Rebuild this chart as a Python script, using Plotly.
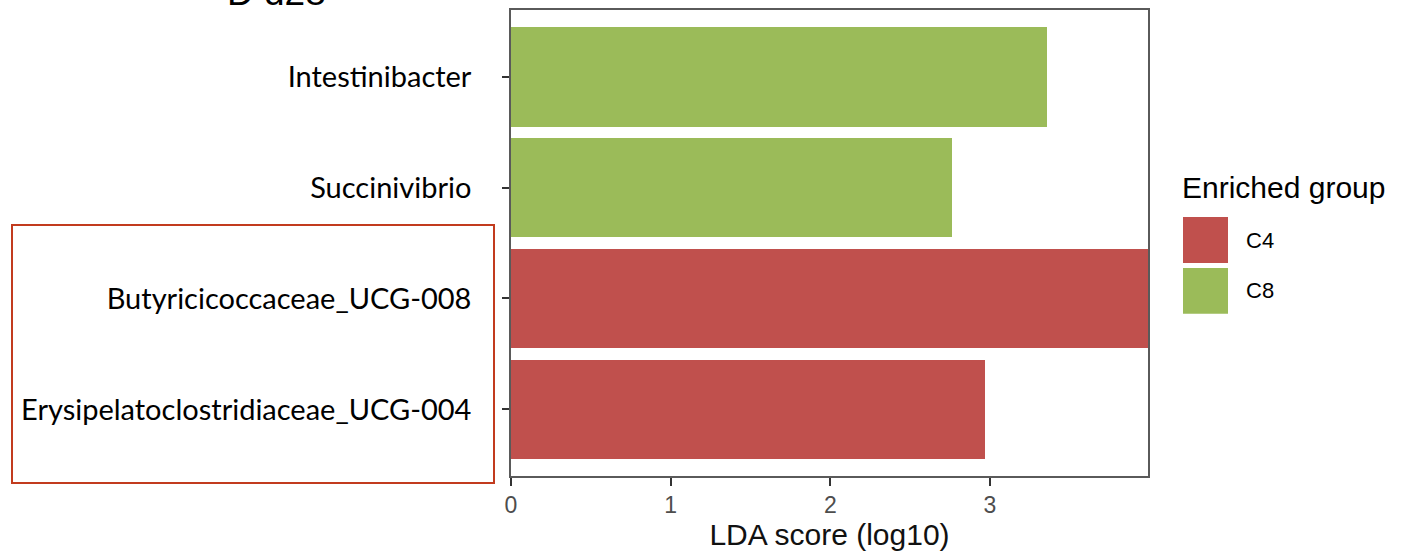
import plotly.graph_objects as go

# ---- data ----
taxa = ["Erysipelatoclostridiaceae_UCG-004", "Butyricicoccaceae_UCG-008",
        "Succinivibrio", "Intestinibacter"]
lda_scores = [2.97, 3.99, 2.76, 3.36]
groups = ["C4", "C4", "C8", "C8"]
group_names = ["C4", "C8"]
group_colors = {"C4": "#C0504D", "C8": "#9BBB59"}
x_ticks = [0, 1, 2, 3]

W, H = 1411, 551
L, R, T, B = 511, 1148, 8, 476  # plot area in pixels


def px(xp):
    return (xp - L) / (R - L)


def py(yp):
    return (B - yp) / (B - T)


fig = go.Figure()
for g in group_names:
    ys = [t for t, gg in zip(taxa, groups) if gg == g]
    xs = [v for v, gg in zip(lda_scores, groups) if gg == g]
    fig.add_trace(go.Bar(x=xs, y=ys, orientation="h", name=g,
                         marker=dict(color=group_colors[g], line=dict(width=0)),
                         width=0.9, showlegend=False))

fig.update_layout(
    width=W, height=H,
    margin=dict(l=L, r=W - R, t=T, b=H - B),
    plot_bgcolor="white", paper_bgcolor="white",
    bargap=0,
)
fig.update_xaxes(
    range=[0, 3.99], tickvals=x_ticks, ticktext=[str(v) for v in x_ticks],
    showgrid=False, zeroline=False,
    showline=True, mirror=True, linecolor="#5a5a5a", linewidth=1.5,
    ticks="outside", ticklen=8, tickwidth=2, tickcolor="#333333",
    ticklabelstandoff=0,
    tickfont=dict(family="Liberation Sans", size=23, color="#4d4d4d"),
    title=dict(text="LDA score (log10)", standoff=1,
               font=dict(family="Liberation Sans", size=30, color="#111111")),
)
fig.update_yaxes(
    type="category", categoryorder="array", categoryarray=taxa,
    range=[-0.6, 3.6],
    showgrid=False, zeroline=False,
    showline=True, mirror=True, linecolor="#5a5a5a", linewidth=1.5,
    ticks="outside", ticklen=7, tickwidth=2, tickcolor="#333333",
    ticklabelstandoff=25,
    tickfont=dict(family="Lato", size=29, color="#000000"),
)

# title (cut off at the top, as in the reference)
fig.add_annotation(text="D d28", xref="paper", yref="paper",
                   x=px(276), y=py(-10), xanchor="center", yanchor="middle",
                   showarrow=False,
                   font=dict(family="Liberation Sans", size=37, color="#000000"))

# highlight box
fig.add_shape(type="rect", xref="paper", yref="paper",
              x0=px(12), x1=px(494), y0=py(483), y1=py(224),
              line=dict(color="#C23B1E", width=2), fillcolor="rgba(0,0,0,0)")

# legend (drawn manually for large swatches)
fig.add_annotation(text="Enriched group", xref="paper", yref="paper",
                   x=px(1180), y=py(186), xanchor="left", yanchor="middle",
                   showarrow=False,
                   font=dict(family="Liberation Sans", size=30, color="#000000"))
sw_top = [216, 267]
for g, top in zip(group_names, sw_top):
    fig.add_shape(type="rect", xref="paper", yref="paper",
                  x0=px(1183), x1=px(1228), y0=py(top + 46), y1=py(top),
                  line=dict(width=0), fillcolor=group_colors[g])
    fig.add_annotation(text=g, xref="paper", yref="paper",
                       x=px(1244), y=py(top + 23), xanchor="left", yanchor="middle",
                       showarrow=False,
                       font=dict(family="Liberation Sans", size=22, color="#000000"))

fig.write_html("out.html",
               config={"displayModeBar": False},
               post_script="document.body.style.margin='0';document.body.style.padding='0';")
